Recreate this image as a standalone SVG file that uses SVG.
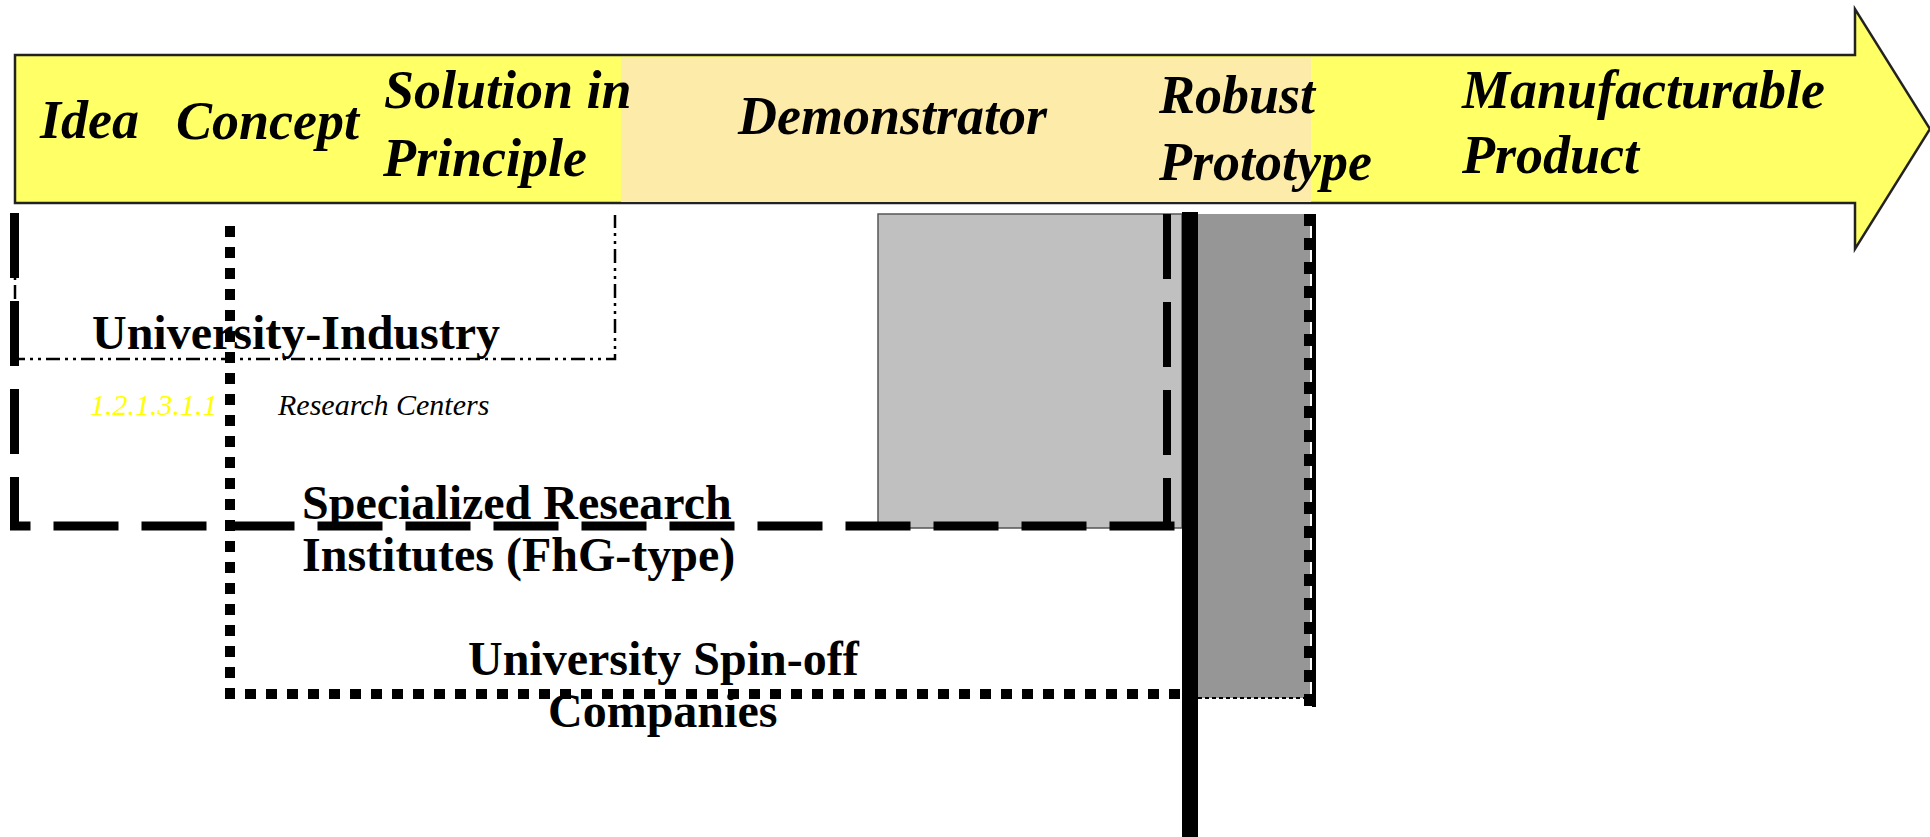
<svg xmlns="http://www.w3.org/2000/svg" width="1930" height="837" viewBox="0 0 1930 837">
<style>
.stage{font-family:"Liberation Serif","Times New Roman",serif;font-weight:bold;font-style:italic;font-size:54px;fill:#000}
.lbl{font-family:"Liberation Serif","Times New Roman",serif;font-weight:bold;font-size:48px;fill:#000}
.small{font-family:"Liberation Serif","Times New Roman",serif;font-style:italic;font-size:30px}
.ln{fill:none;stroke:#000}
</style>
<rect width="1930" height="837" fill="#fff"/>
<g id="timeline">
<polygon points="15,55 1855,55 1855,9 1930,129 1855,249 1855,203 15,203" fill="#FFFF66" stroke="#222" stroke-width="2.5"/>
<rect x="621" y="57" width="690" height="145" fill="#FDEBA9"/>
<text class="stage" x="40" y="138">Idea</text>
<text class="stage" x="176" y="139">Concept</text>
<text class="stage" x="384" y="108">Solution in</text>
<text class="stage" x="383" y="176">Principle</text>
<text class="stage" x="738" y="134">Demonstrator</text>
<text class="stage" x="1159" y="113">Robust</text>
<text class="stage" x="1159" y="180">Prototype</text>
<text class="stage" x="1462" y="108">Manufacturable</text>
<text class="stage" x="1462" y="173">Product</text>
</g>
<g id="demonstrator-box">
<rect x="878" y="214" width="304" height="314" fill="#C0C0C0" stroke="#555" stroke-width="1.5"/>
</g>
<g id="prototype-box">
<rect x="1198" y="214" width="112" height="484" fill="#969696"/>
<line class="ln" x1="1198" y1="698" x2="1310" y2="698" stroke-width="2" stroke-dasharray="4 3"/>
</g>
<g id="connectors">
<path id="uirc-border" class="ln" d="M15,215 V359 H615 V215" stroke-width="2.5" stroke-dasharray="14 5 3 5 3 5"/>
<path id="sri-border" class="ln" d="M14.5,213 V526 H1182" stroke-width="9" stroke-dasharray="65 23"/>
<line class="ln" x1="1167" y1="214" x2="1167" y2="526" stroke-width="8" stroke-dasharray="65 23"/>
<path id="spinoff-border" class="ln" d="M230,226 V694 H1188" stroke-width="10" stroke-dasharray="11 10"/>
<line class="ln" x1="1308" y1="214" x2="1308" y2="707" stroke-width="8" stroke-dasharray="12 12"/>
<line class="ln" x1="1314" y1="214" x2="1314" y2="707" stroke-width="4"/>
<line id="product-line" class="ln" x1="1190" y1="212" x2="1190" y2="837" stroke-width="16"/>
</g>
<g id="uirc">
<text class="lbl" x="92" y="349">University-Industry</text>
<text class="small" x="90" y="415" fill="#FFFF00">1.2.1.3.1.1</text>
<text class="small" x="278" y="415" fill="#000">Research Centers</text>
</g>
<g id="sri">
<text class="lbl" x="302" y="519">Specialized Research</text>
<text class="lbl" x="302" y="571">Institutes (FhG-type)</text>
</g>
<g id="spinoff">
<text class="lbl" x="468" y="675">University Spin-off</text>
<text class="lbl" x="548" y="727">Companies</text>
</g>
</svg>
